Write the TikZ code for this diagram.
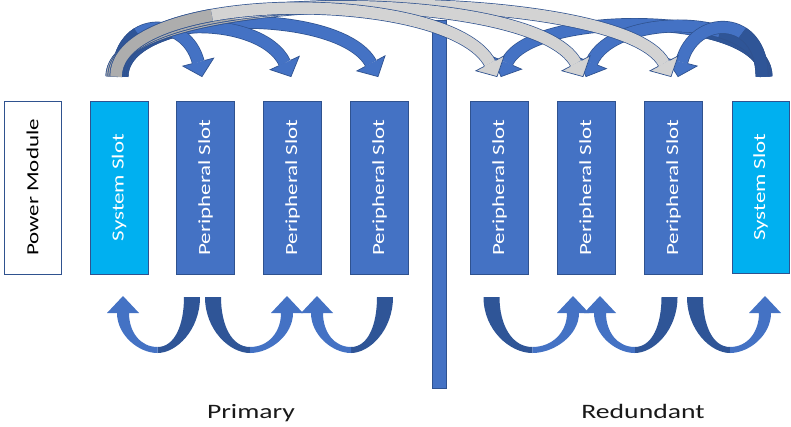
\documentclass[tikz,border=0pt]{standalone}
\usepackage{fontspec}
\usepackage{graphicx}
\setmainfont{Carlito}
\usetikzlibrary{calc}

\definecolor{slotblue}{HTML}{4472C4}
\definecolor{sysblue}{HTML}{00B0F0}
\definecolor{edgeblue}{HTML}{2F528F}
\definecolor{shadeblue}{HTML}{2F5597}
\definecolor{arrowgray}{HTML}{D3D3D3}
\definecolor{shadegray}{HTML}{ADADAD}

% vertical, slightly widened label text
\newcommand\vtext[1]{\rotatebox{90}{\scalebox{1.35}[1]{#1}}}

% x coordinate (pt) of a named coordinate into a macro
\newdimen\arrowxdim
\newcommand\xof[2]{\pgfextractx{\arrowxdim}{\pgfpointanchor{#1}{center}}\pgfmathsetmacro#2{\arrowxdim}}

% U-shaped block arrow under the slots: tail at #1, head at #2
\newcommand\uarrow[2]{%
  \xof{#1}{\uat}\xof{#2}{\uah}%
  \pgfmathsetmacro\uaw{abs(\uah-\uat)/2}%
  \pgfmathsetmacro\uam{(\uah+\uat)/2}%
  \pgfmathsetmacro\uas{(\uah>\uat)?1:-1}%
  \begin{scope}[shift={(\uam,0)}, xscale=\uas]
    \fill[shadeblue] (-\uaw-8,297) .. controls (-\uaw-8,330) and ({-0.55*\uaw},353) .. (0,353)
      -- (0,347) .. controls ({-0.5*\uaw},347) and (-\uaw+8,325) .. (-\uaw+8,297) -- cycle;
    \fill[slotblue] (0,353) .. controls ({0.55*\uaw},353) and (\uaw+6,335) .. (\uaw+6,313)
      -- (\uaw+16,313) -- (\uaw,296) -- (\uaw-16,313) -- (\uaw-6,313)
      .. controls (\uaw-6,332) and ({0.5*\uaw},347) .. (0,347) -- cycle;
  \end{scope}}

% arched block arrow above the slots
% #1 look, #2 tail, #3 tip, #4 control offset from tail, #5 control offset from tip
% the rising part next to the tail is redrawn in a darker shade
\newcommand\toparrow[5]{%
  \coordinate (ta-c1) at ($(#2)+#4$);
  \coordinate (ta-c2) at ($(#3)+#5$);
  \coordinate (ta-n) at ($(#3)!15pt!(ta-c2)$);
  \draw[#1 body] (#2) .. controls (ta-c1) and (ta-c2) .. (ta-n);
  \coordinate (ta-a) at ($(#2)!0.35!(ta-c1)$);
  \coordinate (ta-b) at ($(ta-c1)!0.35!(ta-c2)$);
  \coordinate (ta-c) at ($(ta-c2)!0.35!(ta-n)$);
  \coordinate (ta-d) at ($(ta-a)!0.35!(ta-b)$);
  \coordinate (ta-e) at ($(ta-b)!0.35!(ta-c)$);
  \coordinate (ta-f) at ($(ta-d)!0.35!(ta-e)$);
  \draw[#1 back] (#2) .. controls (ta-a) and (ta-d) .. (ta-f);
  \filldraw[#1 head] ($(ta-n)!6.5pt!90:(ta-c2)$) -- ($(ta-n)!16pt!90:(ta-c2)$) -- (#3)
    -- ($(ta-n)!16pt!-90:(ta-c2)$) -- ($(ta-n)!6.5pt!-90:(ta-c2)$);
}

\begin{document}
\begin{tikzpicture}[x=1pt, y=-1pt,
  box/.style={draw=edgeblue, line width=0.8pt, minimum width=58pt, minimum height=173pt,
    inner sep=0pt, font=\fontsize{17}{17}\selectfont},
  slot/.style={box, fill=slotblue, text=white},
  system/.style={box, fill=sysblue, text=white},
  power/.style={box, fill=white, text=black, minimum width=57pt},
  divider/.style={draw=edgeblue, line width=0.8pt, fill=slotblue, minimum width=14pt,
    minimum height=368pt, inner sep=0pt},
  caption/.style={font=\fontsize{20.5}{20.5}\selectfont, text=black!90, inner sep=0pt},
  blue body/.style={draw=edgeblue, line width=0.7pt, double=slotblue, double distance=11.5pt},
  blue back/.style={draw=edgeblue, line width=0.7pt, double=shadeblue, double distance=11.5pt},
  blue head/.style={draw=edgeblue, line width=0.7pt, fill=slotblue, line join=miter},
  gray body/.style={draw=edgeblue, line width=0.7pt, double=arrowgray, double distance=11.5pt},
  gray back/.style={draw=edgeblue, line width=0.7pt, double=shadegray, double distance=11.5pt},
  gray head/.style={draw=edgeblue, line width=0.7pt, fill=arrowgray, line join=miter}]

\useasboundingbox (0,0) rectangle (791,427);
\fill[white] (0,0) rectangle (791,427);

% slots
\node[power]  (pm) at (32.5,187.5) {\vtext{Power Module}};
\node[system] (s1) at (119,187.5)  {\vtext{System Slot}};
\node[slot]   (p1) at (205.5,187.5) {\vtext{Peripheral Slot}};
\node[slot]   (p2) at (292.5,187.5) {\vtext{Peripheral Slot}};
\node[slot]   (p3) at (379.5,187.5) {\vtext{Peripheral Slot}};
\node[slot]   (p4) at (499.5,187.5) {\vtext{Peripheral Slot}};
\node[slot]   (p5) at (586.5,187.5) {\vtext{Peripheral Slot}};
\node[slot]   (p6) at (673.5,187.5) {\vtext{Peripheral Slot}};
\node[system, minimum width=57pt, minimum height=172pt] (s2) at (760.5,187) {\vtext{System Slot}};

% divider between the two halves
\node[divider] (div) at (439,204) {};

% captions
\node[caption, anchor=base] (prim) at (251,418) {\scalebox{1.35}[1]{Primary}};
\node[caption, anchor=base] (red)  at (643,418) {\scalebox{1.35}[1]{Redundant}};

% ---- arched arrows above the slots ----
% tails on the system slots
\coordinate (s1-g4) at ($(s1.north)+(-3,-24)$);
\coordinate (s1-g5) at ($(s1.north)+(-5,-24)$);
\coordinate (s1-g6) at ($(s1.north)+(-7,-24)$);
\coordinate (s1-b1) at ($(s1.north)+(-1,-24)$);
\coordinate (s1-b2) at ($(s1.north)+(1,-24)$);
\coordinate (s1-b3) at ($(s1.north)+(3,-24)$);
\coordinate (s2-b6) at ($(s2.north)+(1.5,-24)$);
\coordinate (s2-b5) at ($(s2.north)+(3.5,-24)$);
\coordinate (s2-b4) at ($(s2.north)+(5.5,-24)$);
% tips on the peripheral slots
\coordinate (p1-in) at ($(p1.north)+(-3.5,-24)$);
\coordinate (p2-in) at ($(p2.north)+(-1.5,-24)$);
\coordinate (p3-in) at ($(p3.north)+(-1.5,-24)$);
\coordinate (p4-g)  at ($(p4.north)+(-2.5,-24)$);
\coordinate (p5-g)  at ($(p5.north)+(-3.5,-24)$);
\coordinate (p6-g)  at ($(p6.north)+(-2.5,-24)$);
\coordinate (p4-b)  at ($(p4.north)+(1.5,-24)$);
\coordinate (p5-b)  at ($(p5.north)+(-0.5,-24)$);
\coordinate (p6-b)  at ($(p6.north)+(4.5,-24)$);

\toparrow{blue}{s1-b3}{p3-in}{(0,-69)}{(-38,-71)}
\toparrow{blue}{s1-b2}{p2-in}{(0,-65)}{(-29,-63)}
\toparrow{blue}{s1-b1}{p1-in}{(0,-62)}{(-16,-62)}
\toparrow{blue}{s2-b4}{p4-b}{(0,-67)}{(29,-67)}
\toparrow{blue}{s2-b5}{p5-b}{(0,-65)}{(26,-65)}
\toparrow{blue}{s2-b6}{p6-b}{(0,-63)}{(16,-63)}
\toparrow{gray}{s1-g6}{p6-g}{(0,-93)}{(-49,-93)}
\toparrow{gray}{s1-g5}{p5-g}{(0,-91)}{(-48,-91)}
\toparrow{gray}{s1-g4}{p4-g}{(0,-89)}{(-47,-89)}

% ---- U-shaped arrows below the slots ----
\coordinate (ua-t) at ($(p1.south)+(-13.5,23)$); \coordinate (ua-h) at ($(s1.south)+(4,23)$);
\coordinate (ub-t) at ($(p1.south)+(7.5,23)$);   \coordinate (ub-h) at ($(p2.south)+(-5.5,23)$);
\coordinate (uc-t) at ($(p3.south)+(5.5,23)$);   \coordinate (uc-h) at ($(p2.south)+(24.5,23)$);
\coordinate (ud-t) at ($(p4.south)+(-8,23)$);    \coordinate (ud-h) at ($(p5.south)+(-13.5,23)$);
\coordinate (ue-t) at ($(p6.south)+(-4,23)$);    \coordinate (ue-h) at ($(p5.south)+(13.5,23)$);
\coordinate (uf-t) at ($(p6.south)+(21.5,23)$);  \coordinate (uf-h) at ($(s2.south)+(4.5,24)$);

\uarrow{ua-t}{ua-h}
\uarrow{ub-t}{ub-h}
\uarrow{uc-t}{uc-h}
\uarrow{ud-t}{ud-h}
\uarrow{ue-t}{ue-h}
\uarrow{uf-t}{uf-h}

\end{tikzpicture}
\end{document}
